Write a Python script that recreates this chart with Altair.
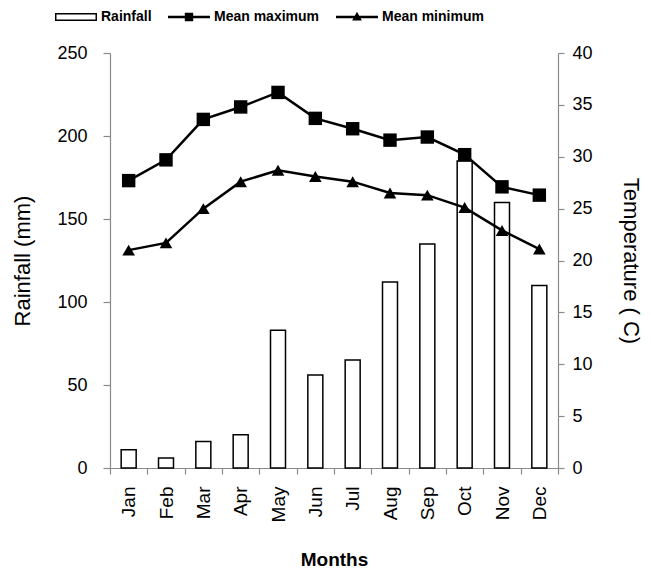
import altair as alt
import pandas as pd

months = ["Jan", "Feb", "Mar", "Apr", "May", "Jun", "Jul", "Aug", "Sep", "Oct", "Nov", "Dec"]
rainfall = [11, 6, 16, 20, 83, 56, 65, 112, 135, 185, 160, 110]
mean_max = [27.7, 29.7, 33.6, 34.8, 36.2, 33.7, 32.7, 31.6, 31.9, 30.2, 27.1, 26.3]
mean_min = [21.0, 21.7, 25.0, 27.6, 28.7, 28.1, 27.6, 26.5, 26.3, 25.1, 22.9, 21.1]
legend_items = ["Rainfall", "Mean maximum", "Mean minimum"]

df = pd.DataFrame({"month": months, "rain": rainfall, "tmax": mean_max, "tmin": mean_min})
leg_df = pd.DataFrame({"item": legend_items})

FONT = "Liberation Sans"
GREY = "#8a8a8a"

x_enc = alt.X(
    "month:N", sort=months,
    scale=alt.Scale(paddingInner=0, paddingOuter=0),
    axis=alt.Axis(title="Months", labelAngle=-90, tickBand="extent", labelPadding=12,
                  labelFontSize=19, tickSize=6, titlePadding=29, titleFontWeight="bold",
                  titleFontSize=19),
)

base = alt.Chart(df)

bars = base.mark_bar(size=15, fill="white", stroke="black", strokeWidth=1.5).encode(
    x=x_enc,
    y=alt.Y("rain:Q", scale=alt.Scale(domain=[0, 250]),
            axis=alt.Axis(title="Rainfall (mm)", values=[0, 50, 100, 150, 200, 250],
                          orient="left", tickSize=7, labelPadding=16, titlePadding=22,
                          titleFontSize=22)),
)

temp_axis = alt.Axis(title="Temperature  ( C)", values=list(range(0, 45, 5)), orient="right",
                     tickSize=6, labelPadding=8, titlePadding=26, titleFontSize=22)
temp_scale = alt.Scale(domain=[0, 40])

max_line = base.mark_line(color="black", strokeWidth=2.5).encode(
    x=x_enc, y=alt.Y("tmax:Q", scale=temp_scale, axis=temp_axis))
max_pts = base.mark_point(shape="square", filled=True, color="black", size=180, opacity=1).encode(
    x=x_enc, y=alt.Y("tmax:Q", scale=temp_scale))
min_line = base.mark_line(color="black", strokeWidth=2.5).encode(
    x=x_enc, y=alt.Y("tmin:Q", scale=temp_scale))
min_pts = base.mark_point(shape="triangle-up", filled=True, color="black", size=160, opacity=1).encode(
    x=x_enc, y=alt.Y("tmin:Q", scale=temp_scale))

temps = alt.layer(max_line, max_pts, min_line, min_pts)

paths = [
    "M-1,-0.19H1V0.19H-1Z M-0.93,-0.12V0.12H0.93V-0.12Z",
    "M-1,-0.06H1V0.06H-1Z M-0.2,-0.2H0.2V0.2H-0.2Z",
    "M-1,-0.06H1V0.06H-1Z M0,-0.25L0.23,0.17H-0.23Z",
]
leg = alt.Legend(
    title=None, orient="none", direction="horizontal", legendX=-55, legendY=-57,
    symbolSize=1764, symbolFillColor="black", symbolStrokeWidth=0, symbolOpacity=1,
    labelFont="Liberation Sans Narrow, Liberation Sans", labelFontWeight="bold", labelFontSize=14,
    labelColor="black", labelOffset=4, columnPadding=16, padding=0,
)
legend_layer = alt.Chart(leg_df).mark_point(filled=True, opacity=0, color="black").encode(
    shape=alt.Shape("item:N", sort=legend_items,
                    scale=alt.Scale(domain=legend_items, range=paths), legend=leg),
)

chart = alt.layer(bars, temps, legend_layer).resolve_scale(
    y="independent"
).properties(
    width=448, height=415,
    autosize=alt.AutoSizeParams(type="none"),
    padding={"left": 102, "top": 45, "right": 85, "bottom": 108},
).configure_view(stroke=None).configure_axis(
    labelFont=FONT, titleFont=FONT, labelFontSize=18, titleFontSize=18,
    labelColor="black", titleColor="black", titleFontWeight="normal",
    domainColor=GREY, tickColor=GREY, grid=False, domainWidth=1.2, tickWidth=1.2,
)

chart.save("out.html", embed_options={"renderer": "svg", "actions": False})
